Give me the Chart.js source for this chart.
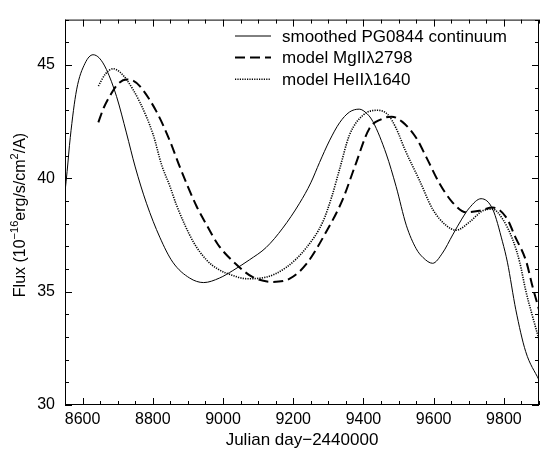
<!DOCTYPE html>
<html>
<head>
<meta charset="utf-8">
<script src="https://cdn.jsdelivr.net/npm/chart.js@4.4.1/dist/chart.umd.min.js"></script>
<style>
  html, body { margin: 0; padding: 0; background: #fff; }
  #wrap { position: relative; width: 540px; height: 450px; }
</style>
</head>
<body>
<div id="wrap"><canvas id="flux-chart"></canvas></div>
<script>
const seriesLabels = ['smoothed PG0844 continuum', 'model MgII\u03bb2798', 'model HeII\u03bb1640'];

// smoothed continuum (solid)
const contDays = [8550, 8556, 8565, 8583, 8607, 8630, 8648, 8668, 8697, 8725, 8750, 8782, 8820, 8857, 8905, 8945, 8990, 9028, 9075, 9123, 9170, 9218, 9250, 9275, 9303, 9332, 9360, 9388, 9410, 9427, 9465, 9493, 9522, 9550, 9570, 9597, 9625, 9654, 9680, 9702, 9735, 9768, 9796, 9810, 9834, 9862, 9900];
const contFlux = [39.4, 40.3, 41.8, 43.9, 45.07, 45.45, 45.3, 44.8, 43.6, 42.0, 40.5, 38.9, 37.4, 36.3, 35.6, 35.4, 35.6, 35.93, 36.4, 36.95, 37.8, 38.9, 39.8, 40.7, 41.65, 42.45, 42.92, 43.05, 42.85, 42.5, 41.07, 39.64, 37.93, 36.9, 36.5, 36.25, 36.7, 37.5, 38.2, 38.7, 39.1, 38.64, 37.2, 36.3, 34.2, 32.36, 31.1];

// model MgII 2798 (dashed)
const mgDays = [8645, 8660, 8678, 8700, 8725, 8745, 8763, 8811, 8849, 8877, 8924, 8955, 8986, 9038, 9085, 9142, 9190, 9237, 9294, 9341, 9375, 9417, 9450, 9480, 9510, 9550, 9580, 9616, 9654, 9692, 9730, 9768, 9806, 9834, 9863, 9882, 9900];
const mgFlux = [42.47, 43.1, 43.64, 44.15, 44.36, 44.3, 44.07, 42.93, 41.64, 40.5, 38.79, 37.9, 37.07, 36.2, 35.64, 35.43, 35.57, 36.21, 37.64, 39.07, 40.5, 42.2, 42.6, 42.72, 42.5, 41.79, 40.9, 39.79, 38.93, 38.5, 38.57, 38.71, 38.29, 37.36, 36.36, 35.2, 34.2];

// model HeII 1640 (dotted)
const heDays = [8645, 8665, 8687, 8705, 8725, 8763, 8801, 8825, 8849, 8868, 8915, 8953, 8985, 9029, 9067, 9123, 9180, 9237, 9284, 9310, 9332, 9360, 9400, 9441, 9470, 9493, 9520, 9559, 9597, 9635, 9664, 9702, 9740, 9768, 9796, 9825, 9845, 9863, 9880, 9900];
const heFlux = [44.07, 44.6, 44.83, 44.7, 44.36, 43.36, 41.93, 40.6, 39.64, 38.8, 37.21, 36.4, 36.0, 35.71, 35.57, 35.64, 36.07, 36.93, 38.07, 39.2, 40.4, 41.9, 42.8, 43.0, 42.8, 42.21, 41.2, 39.93, 38.64, 37.93, 37.71, 38.07, 38.57, 38.64, 38.21, 37.3, 36.3, 35.0, 34.0, 32.9];

const xTicks = [8600, 8800, 9000, 9200, 9400, 9600, 9800];
const yTicks = [30, 35, 40, 45];
const xTitle = 'Julian day\u22122440000';
const yTitleParts = [
  { text: 'Flux (10', sup: false },
  { text: '\u221216', sup: true },
  { text: 'erg/s/cm', sup: false },
  { text: '2', sup: true },
  { text: '/A)', sup: false },
];

const FONT = '"Liberation Sans", Arial, Helvetica, sans-serif';

const toPoints = (xs, ys) => xs.map((x, i) => ({ x, y: ys[i] }));

// frame + inward ticks on all four sides
const frameTicks = {
  id: 'frameTicks',
  afterDraw(chart) {
    const { ctx, chartArea: a, scales: { x, y } } = chart;
    ctx.save();
    ctx.strokeStyle = '#000';
    ctx.lineWidth = 1;
    ctx.strokeRect(a.left + 0.5, a.top + 0.5, a.right - a.left - 1, a.bottom - a.top - 1);
    ctx.beginPath();
    for (let v = 8550; v <= 9900; v += 50) {
      const len = xTicks.includes(v) ? 7 : 4;
      const px = Math.round(x.getPixelForValue(v)) + 0.5;
      ctx.moveTo(px, a.bottom);
      ctx.lineTo(px, a.bottom - len);
      ctx.moveTo(px, a.top);
      ctx.lineTo(px, a.top + len);
    }
    for (let v = 30; v <= 47; v += 1) {
      const len = yTicks.includes(v) ? 7 : 4;
      const py = Math.round(y.getPixelForValue(v)) + 0.5;
      ctx.moveTo(a.left, py);
      ctx.lineTo(a.left + len, py);
      ctx.moveTo(a.right, py);
      ctx.lineTo(a.right - len, py);
    }
    ctx.stroke();
    ctx.restore();
  },
};

// legend in the top right corner of the plot
const lineLegend = {
  id: 'lineLegend',
  afterDraw(chart) {
    const { ctx } = chart;
    ctx.save();
    ctx.font = '17px ' + FONT;
    ctx.textBaseline = 'middle';
    ctx.fillStyle = '#000';
    chart.data.datasets.forEach((ds, i) => {
      const yy = 36 + i * 21.6;
      ctx.beginPath();
      ctx.strokeStyle = '#000';
      ctx.lineWidth = ds.borderWidth;
      ctx.setLineDash(ds.borderDash || []);
      ctx.moveTo(235, yy);
      ctx.lineTo(271, yy);
      ctx.stroke();
      ctx.setLineDash([]);
      ctx.fillText(ds.label, 282, yy + 1);
    });
    ctx.restore();
  },
};

// rotated y title with superscripts
const yTitle = {
  id: 'yTitle',
  afterDraw(chart) {
    const { ctx } = chart;
    ctx.save();
    ctx.translate(21, 215);
    ctx.rotate(-Math.PI / 2);
    ctx.fillStyle = '#000';
    ctx.textBaseline = 'middle';
    const fontFor = (p) => (p.sup ? '11px ' : '16px ') + FONT;
    let total = 0;
    yTitleParts.forEach(p => { ctx.font = fontFor(p); total += ctx.measureText(p.text).width; });
    let cx = -total / 2;
    yTitleParts.forEach(p => {
      ctx.font = fontFor(p);
      ctx.fillText(p.text, cx, p.sup ? -6 : 0);
      cx += ctx.measureText(p.text).width;
    });
    ctx.restore();
  },
};

const ctx = document.getElementById('flux-chart');
new Chart(ctx, {
  type: 'line',
  data: {
    datasets: [
      {
        label: seriesLabels[0],
        data: toPoints(contDays, contFlux),
        borderColor: '#000',
        borderWidth: 1,
        pointRadius: 0,
        fill: false,
        cubicInterpolationMode: 'monotone',
      },
      {
        label: seriesLabels[1],
        data: toPoints(mgDays, mgFlux),
        borderColor: '#000',
        borderWidth: 2,
        borderDash: [10, 5],
        pointRadius: 0,
        fill: false,
        cubicInterpolationMode: 'monotone',
      },
      {
        label: seriesLabels[2],
        data: toPoints(heDays, heFlux),
        borderColor: '#000',
        borderWidth: 1.6,
        borderDash: [1.2, 1.2],
        pointRadius: 0,
        fill: false,
        cubicInterpolationMode: 'monotone',
      },
    ],
  },
  options: {
    responsive: true,
    maintainAspectRatio: false,
    animation: false,
    devicePixelRatio: 1,
    layout: { padding: { top: 7, right: 1, bottom: 0, left: 0 } },
    plugins: {
      legend: { display: false },
      tooltip: { enabled: false },
    },
    scales: {
      x: {
        type: 'linear',
        min: 8550,
        max: 9900,
        afterBuildTicks: (s) => { s.ticks = xTicks.map(v => ({ value: v })); },
        afterFit: (s) => { s.height = 45; },
        grid: { display: false, drawTicks: false },
        border: { display: false },
        ticks: {
          color: '#000',
          font: { family: FONT, size: 16 },
          padding: 5,
          maxRotation: 0,
          autoSkip: false,
          callback: (v) => String(v),
        },
        title: {
          display: true,
          text: xTitle,
          color: '#000',
          font: { family: FONT, size: 17 },
          padding: { top: 0, bottom: -1 },
        },
      },
      y: {
        type: 'linear',
        min: 30,
        max: 47,
        afterBuildTicks: (s) => { s.ticks = yTicks.map(v => ({ value: v })); },
        afterFit: (s) => { s.width = 65; },
        grid: { display: false, drawTicks: false },
        border: { display: false },
        ticks: {
          color: '#000',
          font: { family: FONT, size: 16 },
          padding: 10,
          callback: (v) => String(v),
        },
      },
    },
  },
  plugins: [frameTicks, lineLegend, yTitle],
});
</script>
</body>
</html>
